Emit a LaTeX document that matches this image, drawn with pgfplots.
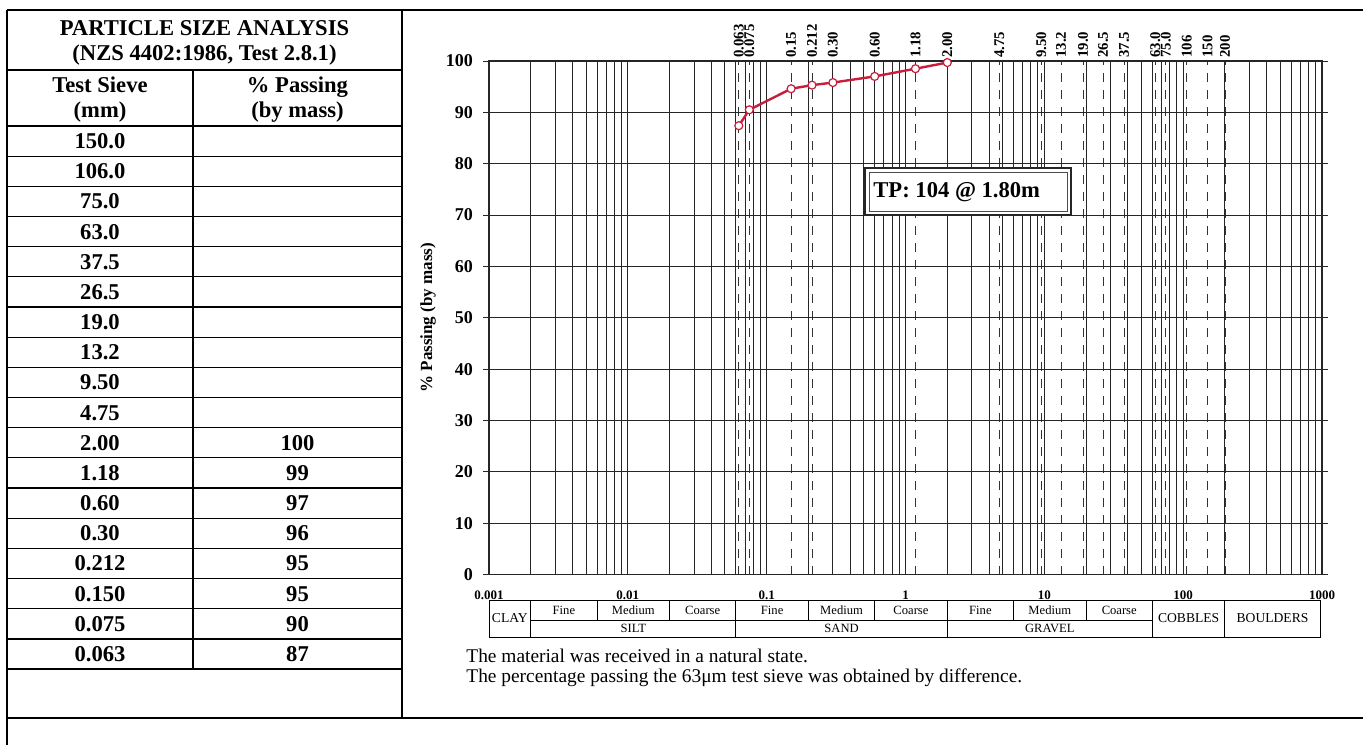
\documentclass[border=0pt]{standalone}
\usepackage{fontspec}
\setmainfont{Liberation Serif}
\usepackage{pgfplots}
\pgfplotsset{compat=1.18}
\definecolor{curve}{RGB}{200,30,60}
\newcommand{\tabfont}{\fontsize{11.3}{13}\selectfont\bfseries}
\newcommand{\tickfont}{\fontsize{9}{10}\selectfont\bfseries}
\newcommand{\sievefont}{\fontsize{7.4}{8}\selectfont\bfseries}
\newcommand{\xfont}{\fontsize{6.5}{7}\selectfont\bfseries}
\newcommand{\clsfont}{\fontsize{6.3}{7}\selectfont}
\newcommand{\clsbig}{\fontsize{6.8}{7.5}\selectfont}
\newcommand{\notefont}{\fontsize{9.7}{11}\selectfont}
\begin{document}
\begin{tikzpicture}
\begin{scope}[x=0.5pt,y=-0.5pt]
\useasboundingbox (0,0) rectangle (1363,745);
% outer frame
\draw[line width=1pt] (7,10) -- (1363,10);
\draw[line width=0.8pt] (7,10) -- (7,745);
\draw[line width=1pt] (7,718) -- (1363,718);
\draw[line width=0.8pt] (402,10) -- (402,718);
% table
\draw[line width=0.6pt] (7,70) -- (402,70);
\draw[line width=0.6pt] (193,70) -- (193,669);
\foreach \k in {0,...,18} \draw[line width=0.6pt] (7,{126+30.17*\k}) -- (402,{126+30.17*\k});
\node[font=\tabfont,anchor=base] at (204.5,35) {PARTICLE SIZE ANALYSIS};
\node[font=\tabfont,anchor=base] at (204.5,60) {(NZS 4402:1986, Test 2.8.1)};
\node[font=\tabfont,anchor=base] at (100,92) {Test Sieve};
\node[font=\tabfont,anchor=base] at (100,117) {(mm)};
\node[font=\tabfont,anchor=base] at (297.5,92) {\% Passing};
\node[font=\tabfont,anchor=base] at (297.5,117) {(by mass)};
\foreach \s [count=\i from 0] in {150.0,106.0,75.0,63.0,37.5,26.5,19.0,13.2,9.50,4.75,2.00,1.18,0.60,0.30,0.212,0.150,0.075,0.063}
  \node[font=\tabfont,anchor=base] at (100,{126+30.17*(\i+0.5)+7.5}) {\s};
\foreach \p [count=\i from 10] in {100,99,97,96,95,95,90,87}
  \node[font=\tabfont,anchor=base] at (297.5,{126+30.17*(\i+0.5)+7.5}) {\p};
% notes
\node[font=\notefont,anchor=base west,inner sep=0pt] at (466,662) {The material was received in a natural state.};
\node[font=\notefont,anchor=base west,inner sep=0pt] at (466,682) {The percentage passing the 63μm test sieve was obtained by difference.};
\end{scope}

% dashed sieve grid with top labels
\begin{axis}[
  at={(244.5pt,-287.25pt)}, anchor=south west,
  scale only axis, width=416.5pt, height=256.75pt,
  xmode=log, xmin=0.001, xmax=1000, ymin=0, ymax=100,
  xtick={0.063,0.075,0.15,0.212,0.30,0.60,1.18,2.00,4.75,9.50,13.2,19.0,26.5,37.5,63.0,75.0,106,150,200},
  xticklabels={0.063,0.075,0.15,0.212,0.30,0.60,1.18,2.00,4.75,9.50,13.2,19.0,26.5,37.5,63.0,75.0,106,150,200},
  ytick=\empty,
  xticklabel pos=top,
  xticklabel style={rotate=90, anchor=west, font=\sievefont, inner sep=1.5pt},
  major tick length=0pt, minor tick length=0pt, xtick style={draw=none},
  xmajorgrids,
  major grid style={black!80, line width=0.45pt, dash pattern=on 4.5pt off 4pt},
  axis line style={draw=none},
]
\end{axis}

\begin{axis}[
  at={(244.5pt,-287.25pt)}, anchor=south west,
  scale only axis, width=416.5pt, height=256.75pt,
  xmode=log, xmin=0.001, xmax=1000, ymin=0, ymax=100,
  clip=false,
  xtick={0.001,0.01,0.1,1,10,100,1000},
  xticklabels={0.001,0.01,0.1,1,10,100,1000},
  minor xtick={0.002,0.003,0.004,0.005,0.006,0.007,0.008,0.009,
    0.02,0.03,0.04,0.05,0.06,0.07,0.08,0.09,
    0.2,0.3,0.4,0.5,0.6,0.7,0.8,0.9,
    2,3,4,5,6,7,8,9,
    20,30,40,50,60,70,80,90,
    200,300,400,500,600,700,800,900},
  ytick={0,10,20,30,40,50,60,70,80,90,100},
  xmajorgrids, xminorgrids, ymajorgrids,
  major grid style={black!85, line width=0.5pt},
  minor grid style={black!85, line width=0.5pt},
  tick align=outside, major tick length=3pt,
  xtick style={draw=none},
  ytick style={black!85, line width=0.5pt},
  axis line style={black!85, line width=0.6pt},
  /pgf/number format/assume math mode=true,
  yticklabel style={font=\tickfont, xshift=-1.5pt},
  xticklabel style={font=\xfont, yshift=-1.6pt},
  ylabel={\% Passing (by mass)},
  every axis y label/.style={at={(axis description cs:-0.0732,0.5)}, anchor=center, rotate=90, font=\fontsize{8.5}{10}\selectfont\bfseries},
]
\addplot[color=curve, line width=1.2pt, mark=*, mark size=2pt,
  mark options={fill=white, draw=curve, line width=0.6pt}]
  coordinates {(0.063,87.4) (0.075,90.5) (0.15,94.6) (0.212,95.3) (0.30,95.8) (0.60,97.0) (1.18,98.5) (2.00,99.7)};
% classification bar
\draw[line width=0.5pt] (axis cs:0.001,-4.97) rectangle (axis cs:970,-12.17);
\pgfplotsinvokeforeach{0.002,0.06,2,60,200}{
  \draw[line width=0.5pt] (axis cs:#1,-4.97) -- (axis cs:#1,-12.17);
}
\pgfplotsinvokeforeach{0.006,0.02,0.2,0.6,6,20}{
  \draw[line width=0.5pt] (axis cs:#1,-4.97) -- (axis cs:#1,-8.86);
}
\draw[line width=0.5pt] (axis cs:0.002,-8.86) -- (axis cs:60,-8.86);
\node[font=\clsbig] at (axis cs:0.001414,-8.57) {CLAY};
\node[font=\clsfont] at (axis cs:0.003464,-6.9) {Fine};
\node[font=\clsfont] at (axis cs:0.01095,-6.9) {Medium};
\node[font=\clsfont] at (axis cs:0.03464,-6.9) {Coarse};
\node[font=\clsfont] at (axis cs:0.01095,-10.5) {SILT};
\node[font=\clsfont] at (axis cs:0.1095,-6.9) {Fine};
\node[font=\clsfont] at (axis cs:0.3464,-6.9) {Medium};
\node[font=\clsfont] at (axis cs:1.095,-6.9) {Coarse};
\node[font=\clsfont] at (axis cs:0.3464,-10.5) {SAND};
\node[font=\clsfont] at (axis cs:3.464,-6.9) {Fine};
\node[font=\clsfont] at (axis cs:10.95,-6.9) {Medium};
\node[font=\clsfont] at (axis cs:34.64,-6.9) {Coarse};
\node[font=\clsfont] at (axis cs:10.95,-10.5) {GRAVEL};
\node[font=\clsbig] at (axis cs:109.5,-8.57) {COBBLES};
\node[font=\clsbig] at (axis cs:440,-8.57) {BOULDERS};
\end{axis}

\begin{scope}[x=0.5pt,y=-0.5pt]
\fill[white] (865,168) rectangle (1071,215);
\draw[line width=1.2pt, black!85] (865,168) rectangle (1071,215);
\draw[line width=0.4pt, black!70] (869,172) rectangle (1067,211);
\node[font=\tabfont,anchor=base west,inner sep=0pt] at (873,197.5) {TP: 104 @ 1.80m};
\end{scope}
\end{tikzpicture}
\end{document}
